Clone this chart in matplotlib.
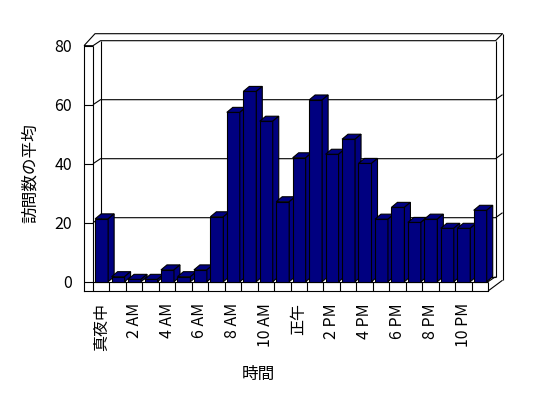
import matplotlib
matplotlib.use("Agg")
import matplotlib.pyplot as plt
from matplotlib.patches import Polygon

plt.rcParams['font.family'] = ['Noto Sans CJK JP', 'DejaVu Sans']

# ---- data ----
hours = list(range(24))
visits = [21.3, 1.7, 0.8, 0.8, 4.0, 1.7, 4.0, 22.0, 57.4, 64.5, 54.4, 27.1,
          42.0, 61.6, 43.2, 48.3, 40.1, 21.2, 25.2, 20.1, 21.2, 18.1, 18.1, 24.2]
tick_labels = ['真夜中', '2 AM', '4 AM', '6 AM', '8 AM', '10 AM',
               '正午', '2 PM', '4 PM', '6 PM', '8 PM', '10 PM']
y_ticks = [0, 20, 40, 60, 80]
x_title = '時間'
y_title = '訪問数の平均'

# ---- layout constants (pixels -> data) ----
W, H = 548, 398
PX0, SLOT = 93.0, 16.46       # pixel x of category 0 edge, pixels per category
PY0, PPV = 281.7, 2.95        # pixel y of value 0, pixels per value unit
NAVY = '#000080'
LW = 0.8

fig = plt.figure(figsize=(W / 100, H / 100), dpi=100)
fig.patch.set_facecolor('white')
ax = fig.add_axes([0, 0, 1, 1])
ax.set_xlim(-PX0 / SLOT, (W - PX0) / SLOT)
ax.set_ylim((PY0 - H) / PPV, PY0 / PPV)

n = len(hours)
vmax = y_ticks[-1]
L0 = -9.0 / SLOT            # left wall outer front edge
B0 = -9.3 / PPV             # floor bottom
DXW, DYW = 7.5 / SLOT, 5.0 / PPV     # wall depth offset
DXB, DYB = 6.0 / SLOT, 5.0 / PPV     # bar depth offset
XOR = n + DXW + 7.0 / SLOT           # outer right edge
XOL = L0 + 11.0 / SLOT               # outer left top corner
VOT = vmax + DYW + 7.0 / PPV         # outer top
VOB = 0.5                            # outer bottom right

def line(xs, ys, z=2):
    ax.plot(xs, ys, color='black', lw=LW, zorder=z, solid_capstyle='butt')

# frame: left wall front face right edge, floor top front edge
line([0, 0], [B0, vmax])
line([0, n], [0, 0])
line([n, n], [B0, 0])
# top slab
line([L0, 0, DXW, n + DXW, XOR, XOL, L0],
     [vmax, vmax, vmax + DYW, vmax + DYW, VOT, VOT, vmax])
# left wall inner face back corner
line([DXW, DXW], [DYW, vmax + DYW])
# back wall front face edges
line([DXW, n + DXW], [DYW, DYW])
line([n + DXW, n + DXW], [DYW, vmax + DYW])
# floor right end and right strip
line([n, n + DXW], [0, DYW])
line([n, XOR], [B0, VOB])
line([XOR, XOR], [VOB, VOT])
# gridlines
for v in y_ticks[1:-1]:
    line([0, DXW, n + DXW, XOR], [v, v + DYW, v + DYW, v + DYW + 5.0 / PPV], z=1)

# bars
x_front = [h + 0.13 for h in hours]
bw = 0.79
for i, (x0, h) in enumerate(zip(x_front, visits)):
    z = 10 + i
    ax.bar(x0, h, width=bw, align='edge', color=NAVY, edgecolor='black',
           linewidth=LW, zorder=z)
    x1 = x0 + bw
    ax.add_patch(Polygon([(x0, h), (x1, h), (x1 + DXB, h + DYB), (x0 + DXB, h + DYB)],
                         closed=True, facecolor=NAVY, edgecolor='black', lw=LW, zorder=z))
    ax.add_patch(Polygon([(x1, 0), (x1 + DXB, DYB), (x1 + DXB, h + DYB), (x1, h)],
                         closed=True, facecolor=NAVY, edgecolor='black', lw=LW, zorder=z))

# axes / spines
for s in ['top', 'right']:
    ax.spines[s].set_visible(False)
ax.spines['left'].set_position(('data', L0))
ax.spines['left'].set_bounds(B0, vmax)
ax.spines['bottom'].set_position(('data', B0))
ax.spines['bottom'].set_bounds(L0, n)
for s in ['left', 'bottom']:
    ax.spines[s].set_linewidth(LW)

ax.set_yticks(y_ticks)
ax.set_yticklabels([str(t) for t in y_ticks])
ax.tick_params(axis='y', direction='in', length=9 / 1.389, width=LW, pad=12 / 1.389,
               labelsize=11.5)
ax.set_xticks([h + 0.5 for h in hours[::2]])
ax.set_xticklabels(tick_labels, rotation=90)
ax.set_xticks([h for h in hours[1:]], minor=True)
ax.tick_params(axis='x', which='major', length=0, pad=12 / 1.389, labelsize=11.5)
ax.tick_params(axis='x', which='minor', direction='in', length=9.3 / 1.389, width=LW)

ax.set_xlabel(x_title, fontsize=12)
ax.xaxis.set_label_coords((258.5 - PX0) / SLOT, (PY0 - 374) / PPV, transform=ax.transData)
ax.xaxis.label.set_va('center')
ax.set_ylabel(y_title, fontsize=12)
ax.yaxis.set_label_coords((30 - PX0) / SLOT, (PY0 - 173.5) / PPV, transform=ax.transData)
ax.yaxis.label.set_va('center')

fig.savefig('out.png', dpi=100, facecolor='white')
